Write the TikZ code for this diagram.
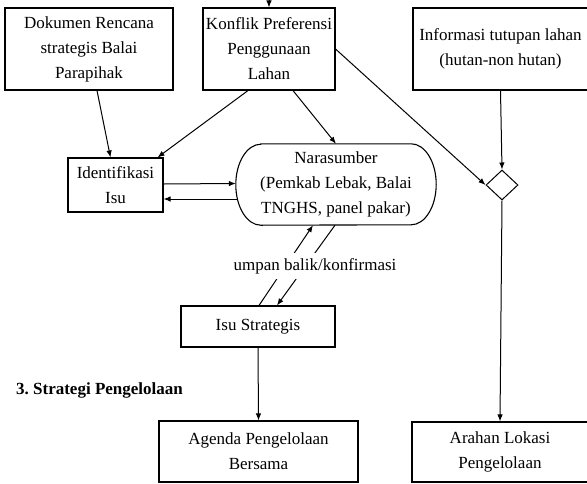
\documentclass[tikz,border=0pt]{standalone}
\usepackage{fontspec}
\setmainfont{Liberation Serif}
\usetikzlibrary{shapes.geometric,arrows.meta}
\frenchspacing
\begin{document}
\begin{tikzpicture}[x=1pt,y=-1pt,
  every node/.style={font=\fontsize{17}{25}\selectfont, align=center, inner sep=0pt},
  box/.style={draw, line width=1.1pt},
  arr/.style={line width=1pt, -{Latex[length=7pt,width=5.5pt]}}]
\useasboundingbox (0,0) rectangle (587,483);
\clip (0,0) rectangle (587,483);
\node[box, minimum width=168pt, minimum height=82pt] (dok) at (89,49) {Dokumen Rencana\\strategis Balai\\Parapihak};
\node[box, minimum width=132pt, minimum height=82pt] (konf) at (269,49) {Konflik Preferensi\\Penggunaan\\Lahan};
\node[box, minimum width=175pt, minimum height=82pt] (info) at (500.5,49) {Informasi tutupan lahan\\(hutan-non hutan)};
\node[box, minimum width=95pt, minimum height=54pt] (ident) at (115.5,185) {Identifikasi\\Isu};
\node[minimum width=200pt, minimum height=81pt] (nara) at (336,184.5) {Narasumber\\(Pemkab Lebak, Balai\\TNGHS, panel pakar)};
\draw[line width=1.1pt] ([xshift=25pt]nara.north west) -- ([xshift=-25pt]nara.north east)
  arc[start angle=90, end angle=-90, x radius=25pt, y radius=40.5pt]
  -- ([xshift=25pt]nara.south west)
  arc[start angle=270, end angle=90, x radius=25pt, y radius=40.5pt] -- cycle;
\node[draw, line width=1pt, diamond, minimum width=32pt, minimum height=30pt] (dia) at (502,185) {};
\node[box, minimum width=154pt, minimum height=41pt] (isu) at (258,326.5) {Isu Strategis};
\node[box, minimum width=199pt, minimum height=61pt] (agenda) at (258.5,451.5) {Agenda Pengelolaan\\Bersama};
\node[box, minimum width=176pt, minimum height=60pt] (arahan) at (500,452) {Arahan Lokasi\\Pengelolaan};
\node (lbl) at (99.5,390) {\bfseries 3. Strategi Pengelolaan};
\coordinate (top) at (269,0);

\draw[arr] (top) -- (konf.north);
\draw[arr] ([xshift=8pt]dok.south) -- ([xshift=-5pt]ident.north);
\draw[arr] ([xshift=-21pt]konf.south) -- ([xshift=42pt]ident.north);
\draw[arr] ([xshift=24pt]konf.south) -- (nara.north);
\draw[arr] (konf.east) -- (dia.west);
\draw[arr] (info.south) -- (dia.north);
\draw[arr] (dia.south) -- (arahan.north);
\draw[arr] ([yshift=1pt]ident.east) -- ([yshift=1pt]nara.west);
\draw[arr] ([xshift=1.7pt,yshift=-14.5pt]nara.west) -- ([yshift=-14pt]ident.east);
\draw[arr] ([xshift=1pt]isu.north) -- ([xshift=-23pt]nara.south);
\draw[arr] ([xshift=-1pt]nara.south) -- ([xshift=19pt]isu.north);
\draw[arr] (isu.south) -- (agenda.north);
\node[fill=white, inner xsep=2pt, inner ysep=5pt] (fb) at (315,266) {umpan balik/konfirmasi};
\end{tikzpicture}
\end{document}
